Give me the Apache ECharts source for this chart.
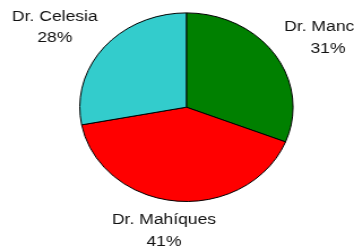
<!DOCTYPE html>
<html>
<head>
<meta charset="utf-8">
<script src="https://cdn.jsdelivr.net/npm/echarts@6/dist/echarts.min.js"></script>
<style>
  html, body { margin: 0; padding: 0; background: #fff; overflow: hidden; }
  /* the reference is stretched horizontally, so the whole chart is too */
  #pie { width: 313px; height: 248px; transform: scaleX(1.131); transform-origin: 0 0; }
</style>
</head>
<body>
<div id="pie"></div>
<script>
var doctors = ['Dr. Mancini', 'Dr. Mahíques', 'Dr. Celesia'];
var shares = [31, 41, 28];
var colors = ['#008000', '#ff0000', '#33cccc'];

// label centres, in the unstretched frame
var labelPos = [[290, 37.5], [145, 230.5], [48.5, 27]];

var myChart = echarts.init(document.getElementById('pie'));
var option = {
    animation: false,
    series: [{
        name: 'Pacientes',
        type: 'pie',
        center: [164.8, 107.2],
        radius: 94.3,
        startAngle: 90,
        clockwise: true,
        avoidLabelOverlap: false,
        data: doctors.map(function (d, i) {
            return { name: d, value: shares[i], itemStyle: { color: colors[i] } };
        }),
        itemStyle: {
            borderColor: '#000',
            borderWidth: 1
        },
        label: {
            show: true,
            position: 'outside',
            fontFamily: 'Liberation Sans, Arial, sans-serif',
            fontSize: 15.5,
            fontWeight: 'normal',
            lineHeight: 21.5,
            color: '#111',
            align: 'center',
            formatter: function (p) {
                return p.name + '\n' + Math.round(p.percent) + '%';
            }
        },
        labelLine: { show: false },
        labelLayout: function (params) {
            var pos = labelPos[params.dataIndex];
            return { x: pos[0], y: pos[1], align: 'center', verticalAlign: 'middle' };
        }
    }]
};
myChart.setOption(option);
</script>
</body>
</html>
